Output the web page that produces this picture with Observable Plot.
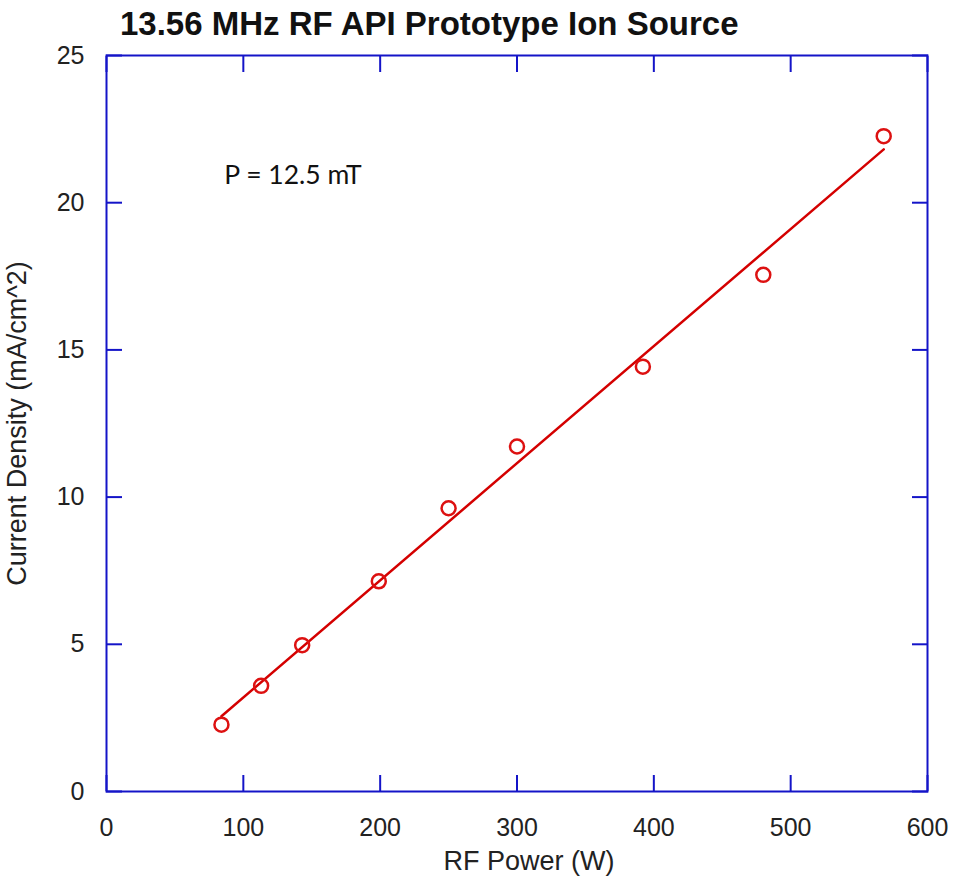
<!DOCTYPE html>
<html><head><meta charset="utf-8">
<script src="https://cdn.jsdelivr.net/npm/d3@7"></script>
<script src="https://cdn.jsdelivr.net/npm/@observablehq/plot@0.6"></script>
<style>
body{margin:0;background:#fff;}
#wrap{position:relative;width:953px;height:884px;}
#title{position:absolute;left:120px;top:5px;font:bold 33px "Liberation Sans",Arial,sans-serif;color:#111;white-space:nowrap;z-index:2;}
#chart{position:absolute;left:0;top:0;}
</style></head><body>
<div id="wrap"><div id="title">13.56 MHz RF API Prototype Ion Source</div><div id="chart"></div></div>
<script>
const power = [84, 113, 143, 199, 250, 300, 392, 480, 568];
const density = [2.27, 3.59, 4.97, 7.14, 9.62, 11.72, 14.43, 17.55, 22.26];
const xTicks = [0, 100, 200, 300, 400, 500, 600];
const yTicks = [0, 5, 10, 15, 20, 25];
const xLabel = "RF Power (W)";
const yLabel = "Current Density (mA/cm^2)";
const annotation = [{text: "P = 12.5 mT", x: 86, y: 20.65}];

const data = power.map((p, i) => ({power: p, density: density[i]}));
const blue = "#1414c8";
const red = "#dd1111";
const font = '"Liberation Sans", Arial, sans-serif';

const chart = Plot.plot({
  width: 953, height: 884,
  marginLeft: 106, marginRight: 26, marginTop: 55, marginBottom: 93,
  style: {fontFamily: font, fontSize: "25px", color: "#222", background: "transparent"},
  x: {domain: [0, 600], label: null},
  y: {domain: [0, 25], label: null},
  marks: [
    Plot.axisX(xTicks, {anchor: "bottom", tickSize: -16, stroke: blue, strokeWidth: 2, fill: "none", label: null}),
    Plot.axisX(xTicks, {anchor: "top", tickSize: -16, stroke: blue, strokeWidth: 2, fill: "none", label: null}),
    Plot.axisY(yTicks, {anchor: "left", tickSize: -16, stroke: blue, strokeWidth: 2, fill: "none", label: null}),
    Plot.axisY(yTicks, {anchor: "right", tickSize: -16, stroke: blue, strokeWidth: 2, fill: "none", label: null}),
    Plot.axisX(xTicks, {anchor: "bottom", tickSize: 0, tickPadding: 27, fill: "#222", label: null}),
    Plot.axisY(yTicks, {anchor: "left", tickSize: 0, tickPadding: 22, fill: "#222", label: null}),
    Plot.frame({stroke: blue, strokeWidth: 2}),
    Plot.linearRegressionY(data, {x: "power", y: "density", stroke: "#d40000", strokeWidth: 2.5, ci: 0}),
    Plot.dot(data, {x: "power", y: "density", r: 7, stroke: red, strokeWidth: 2.5, fill: "none"}),
    Plot.text(annotation, {x: "x", y: "y", text: "text", textAnchor: "start", lineAnchor: "bottom", fontFamily: "Lato", fontSize: 26.5, fill: "#111"}),
    Plot.text([xLabel], {frameAnchor: "bottom", dx: 12, dy: 70, textAnchor: "middle", lineAnchor: "middle", fontSize: 27, fill: "#222"}),
    Plot.text([yLabel], {frameAnchor: "left", dx: -89, rotate: -90, textAnchor: "middle", lineAnchor: "middle", fontSize: 27, fill: "#222"})
  ]
});
document.getElementById("chart").appendChild(chart);
</script>
</body></html>
